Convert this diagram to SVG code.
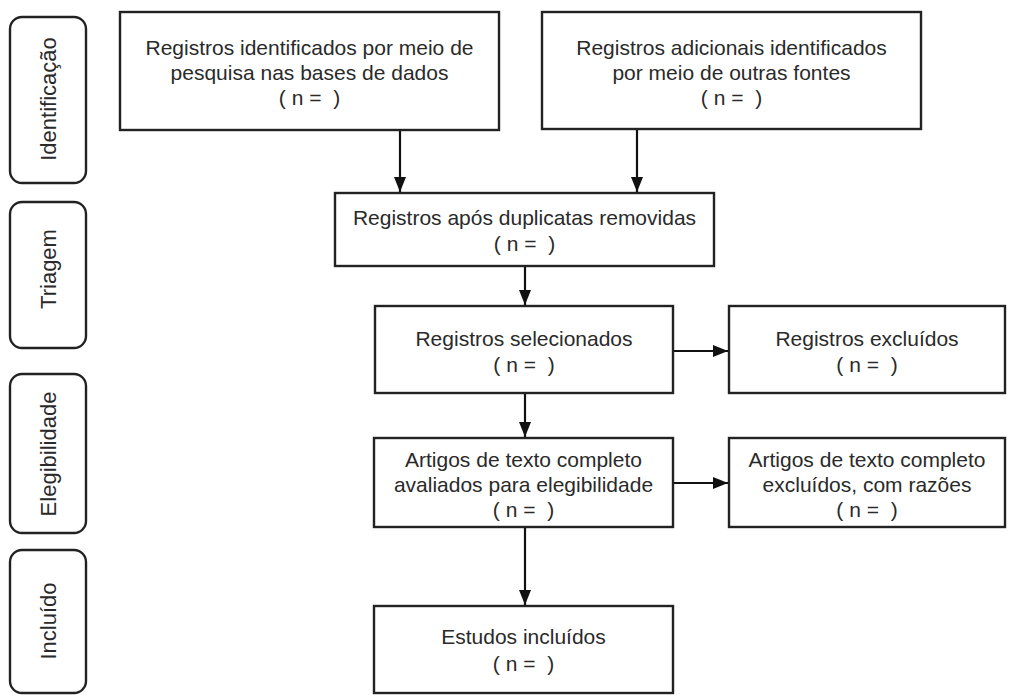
<svg xmlns="http://www.w3.org/2000/svg" width="1018" height="696" viewBox="0 0 1018 696">
<style>
.box{fill:#fff;stroke:#222;stroke-width:2.4}
.side{fill:#fff;stroke:#222;stroke-width:2.4}
text{font-family:"Liberation Sans",Arial,sans-serif;font-size:21px;fill:#2a2a2a;text-anchor:middle;white-space:pre}
.sl{font-size:22px}
.edge{stroke:#111;stroke-width:2.2;fill:none;marker-end:url(#arr)}
</style>
<defs>
<marker id="arr" markerUnits="userSpaceOnUse" markerWidth="15" markerHeight="12" viewBox="0 0 15 12" refX="15" refY="6" orient="auto">
<path d="M0,0 L15,6 L0,12 Z" fill="#111"/>
</marker>
</defs>
<rect width="1018" height="696" fill="#fff"/>
<g id="stage-identificacao">
<rect class="side" x="10" y="17" width="76" height="166" rx="12"/>
<text class="sl" transform="translate(56,99) rotate(-90)">Identificação</text>
</g>
<g id="stage-triagem">
<rect class="side" x="10" y="202" width="76" height="146" rx="12"/>
<text class="sl" transform="translate(56,269) rotate(-90)">Triagem</text>
</g>
<g id="stage-elegibilidade">
<rect class="side" x="10" y="374" width="76" height="159" rx="12"/>
<text class="sl" transform="translate(56,454) rotate(-90)">Elegibilidade</text>
</g>
<g id="stage-incluido">
<rect class="side" x="10" y="550" width="76" height="143" rx="12"/>
<text class="sl" transform="translate(56,621) rotate(-90)">Incluído</text>
</g>
<g id="n-bases">
<rect class="box" x="120" y="12" width="379" height="118"/>
<text x="309.5" y="55">Registros identificados por meio de</text>
<text x="309.5" y="80">pesquisa nas bases de dados</text>
<text x="309.5" y="105">( n =  )</text>
</g>
<g id="n-outras">
<rect class="box" x="542" y="12" width="379" height="117"/>
<text x="731.5" y="55">Registros adicionais identificados</text>
<text x="731.5" y="80">por meio de outras fontes</text>
<text x="731.5" y="105">( n =  )</text>
</g>
<g id="n-duplicatas">
<rect class="box" x="335" y="193" width="379" height="73"/>
<text x="524.5" y="225">Registros após duplicatas removidas</text>
<text x="524.5" y="251">( n =  )</text>
</g>
<g id="n-selecionados">
<rect class="box" x="375" y="306" width="298" height="87"/>
<text x="524" y="346">Registros selecionados</text>
<text x="524" y="372">( n =  )</text>
</g>
<g id="n-excluidos">
<rect class="box" x="729" y="306" width="276" height="87"/>
<text x="867" y="346">Registros excluídos</text>
<text x="867" y="372">( n =  )</text>
</g>
<g id="n-artigos">
<rect class="box" x="374" y="438" width="299" height="89"/>
<text x="523.5" y="467">Artigos de texto completo</text>
<text x="523.5" y="492">avaliados para elegibilidade</text>
<text x="523.5" y="517">( n =  )</text>
</g>
<g id="n-artigos-excluidos">
<rect class="box" x="729" y="438" width="276" height="89"/>
<text x="867" y="467">Artigos de texto completo</text>
<text x="867" y="492">excluídos, com razões</text>
<text x="867" y="517">( n =  )</text>
</g>
<g id="n-estudos">
<rect class="box" x="374" y="606" width="299" height="87"/>
<text x="523.5" y="644">Estudos incluídos</text>
<text x="523.5" y="671">( n =  )</text>
</g>
<g id="connectors">
<line class="edge" x1="400" y1="131" x2="400" y2="192"/>
<line class="edge" x1="637" y1="130" x2="637" y2="192"/>
<line class="edge" x1="525" y1="267" x2="525" y2="305"/>
<line class="edge" x1="525" y1="394" x2="525" y2="437"/>
<line class="edge" x1="674" y1="351" x2="728" y2="351"/>
<line class="edge" x1="674" y1="483" x2="728" y2="483"/>
<line class="edge" x1="525" y1="528" x2="525" y2="605"/>
</g>
</svg>
